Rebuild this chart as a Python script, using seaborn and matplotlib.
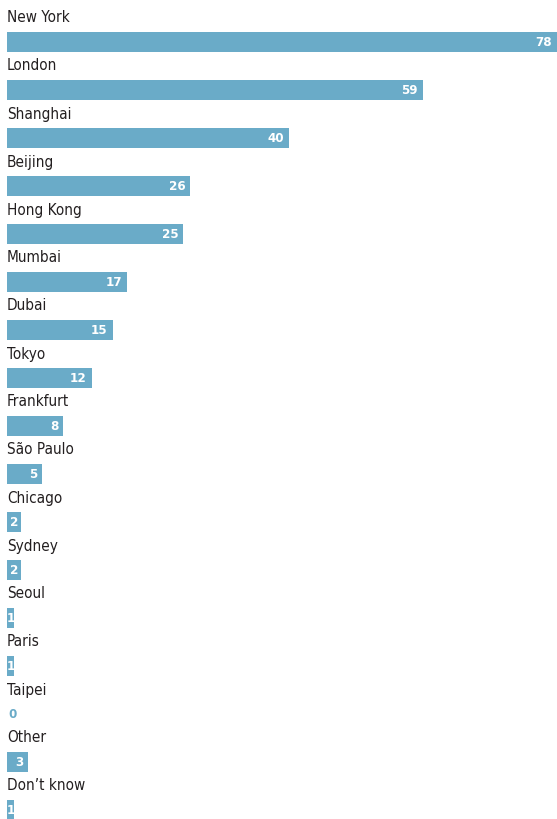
import matplotlib
matplotlib.use("Agg")
import matplotlib.pyplot as plt
import matplotlib.transforms as mtransforms
import seaborn as sns
import pandas as pd

cities = ["New York", "London", "Shanghai", "Beijing", "Hong Kong", "Mumbai",
          "Dubai", "Tokyo", "Frankfurt", "São Paulo", "Chicago", "Sydney",
          "Seoul", "Paris", "Taipei", "Other", "Don’t know"]
values = [78, 59, 40, 26, 25, 17, 15, 12, 8, 5, 2, 2, 1, 1, 0, 3, 1]

BAR_COLOR = "#6aabc8"
TEXT_COLOR = "#231f20"

sns.set_theme(style="white")
plt.rcParams["font.family"] = ["DejaVu Sans"]
plt.rcParams["font.stretch"] = "condensed"

df = pd.DataFrame({"city": cities, "value": values})

W, H, DPI = 557, 819, 100
fig = plt.figure(figsize=(W / DPI, H / DPI), dpi=DPI)
ax = fig.add_axes([7 / W, 0, 1 - 7 / W, 1])

sns.barplot(data=df, x="value", y="city", orient="h", color=BAR_COLOR,
            saturation=1, width=0.42, ax=ax, order=cities,
            linewidth=0, edgecolor="none")

ax.set_xlim(0, 78)
ax.set_ylim(16.1875, -0.875)
ax.set_axis_off()

for i, (name, v) in enumerate(zip(cities, values)):
    ax.text(0, i - 0.5, name, ha="left", va="center", fontsize=11,
            color=TEXT_COLOR, fontstretch="condensed")
    if v == 0:
        ax.text(0.15, i, "0", ha="left", va="center", fontsize=9.5,
                fontweight="bold", color=BAR_COLOR, fontstretch="condensed")
    elif v <= 2:
        ax.text(v / 2, i, str(v), ha="center", va="center", fontsize=9.5,
                fontweight="bold", color="white", fontstretch="condensed")
    else:
        off = mtransforms.offset_copy(ax.transData, fig=fig, x=-5, y=0,
                                      units="dots")
        ax.text(v, i, str(v), ha="right", va="center", fontsize=9.5,
                fontweight="bold", color="white", transform=off,
                fontstretch="condensed")

fig.savefig("out.png", dpi=DPI)
